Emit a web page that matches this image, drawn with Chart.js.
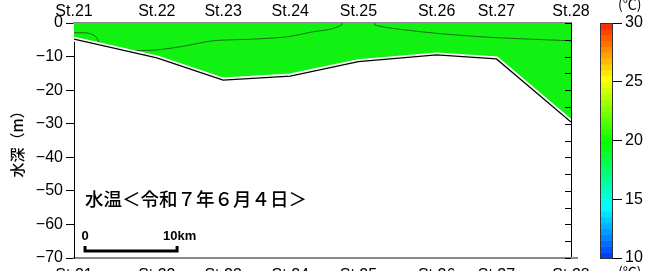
<!DOCTYPE html>
<html>
<head>
<meta charset="utf-8">
<script src="https://cdn.jsdelivr.net/npm/chart.js@4"></script>
<style>
  body { margin: 0; background: #fff; }
</style>
</head>
<body>
<canvas id="secao" width="655" height="271"></canvas>
<script>
// estações e distância ao longo da seção (km)
const estacoes = ['St.21', 'St.22', 'St.23', 'St.24', 'St.25', 'St.26', 'St.27', 'St.28'];
const distKm = [0, 9.0, 16.2, 23.5, 30.9, 39.4, 45.9, 54.0];

// profundidade do fundo em cada estação (m)
const fundo = [-4.8, -10.4, -17.0, -15.8, -11.5, -9.5, -10.7, -29.5];

// isolinhas de temperatura
const iso1Km = [0, 1.5, 2.3, 2.6, 2.8];
const iso1Prof = [-2.9, -3.0, -3.9, -5.1, -6.3];
const iso2Km = [6.4, 9.0, 11.5, 15.1, 19.5, 23.2, 26.0, 27.8, 29.1, 29.1];
const iso2Prof = [-8.3, -8.0, -7.1, -5.3, -4.8, -4.1, -2.6, -1.9, -0.6, 0];
const iso3Km = [32.7, 32.7, 34.6, 39.5, 45.4, 54.0];
const iso3Prof = [0, -0.6, -1.6, -3.1, -4.3, -5.3];

const ticksProf = [0, -5, -10, -15, -20, -25, -30, -35, -40, -45, -50, -55, -60, -65, -70];
const ticksCor = [10, 15, 20, 25, 30];

const VERDE = '#12f212';
const pontos = (xs, ys) => xs.map((x, i) => ({ x: x, y: ys[i] }));

Chart.defaults.font.family = '"Liberation Sans", Arial, sans-serif';
Chart.defaults.color = '#000';

function corTemp(t) {
    const h = 228 - 11 * (t - 10);
    return 'hsl(' + h + ',100%,50%)';
}

const extras = {
    id: 'extras',
    afterDraw(chart) {
        const c = chart.ctx;
        const area = chart.chartArea;
        const x = chart.scales.x;
        const y = chart.scales.y;
        const yd = chart.scales.y2;
        const cb = chart.scales.cb;
        c.save();

        // marcas internas do eixo direito
        c.strokeStyle = '#000';
        c.lineWidth = 1;
        yd.ticks.forEach(t => {
            const py = Math.round(yd.getPixelForValue(t.value)) + 0.5;
            c.beginPath();
            c.moveTo(area.right - 6, py);
            c.lineTo(area.right, py);
            c.stroke();
        });

        // linha inferior prolongada
        c.strokeStyle = '#888';
        c.lineWidth = 2;
        c.beginPath();
        c.moveTo(area.right, area.bottom);
        c.lineTo(area.right + 7, area.bottom);
        c.stroke();

        // barra de cores
        const bx = cb.left - 12;
        for (let t = 10; t < 30; t += 0.5) {
            const y1 = cb.getPixelForValue(t + 0.5);
            const y0 = cb.getPixelForValue(t);
            c.fillStyle = corTemp(t + 0.25);
            c.fillRect(bx, y1, 12, y0 - y1 + 0.5);
        }
        c.strokeStyle = '#333';
        c.lineWidth = 1;
        c.strokeRect(bx + 0.5, cb.top + 0.5, 12, cb.bottom - cb.top);

        c.fillStyle = '#000';
        c.font = '14px "Noto Sans CJK JP"';
        c.textAlign = 'left';
        c.textBaseline = 'alphabetic';
        c.fillText('(℃)', 618, 9);
        c.fillText('(℃)', 618, 277);

        // título
        c.font = '500 18.5px "Noto Sans CJK JP"';
        c.textBaseline = 'middle';
        c.fillText('水温＜令和７年６月４日＞', x.getPixelForValue(1.2), y.getPixelForValue(-52.5));

        // escala 10 km
        const x0 = x.getPixelForValue(1.2);
        const x1 = x.getPixelForValue(11.2);
        const yb = y.getPixelForValue(-67.9);
        c.strokeStyle = '#000';
        c.lineWidth = 3;
        c.beginPath();
        c.moveTo(x0, yb - 5);
        c.lineTo(x0, yb);
        c.lineTo(x1, yb);
        c.lineTo(x1, yb - 5);
        c.stroke();
        c.font = 'bold 13px "Liberation Sans", Arial';
        c.textBaseline = 'alphabetic';
        c.textAlign = 'center';
        c.fillText('0', x0, yb - 11);
        c.textAlign = 'left';
        c.fillText('10km', x1 - 14, yb - 11);

        c.restore();
    }
};

const eixoX = (pos, alt, pad) => ({
    type: 'linear',
    position: pos,
    min: 0,
    max: 54,
    afterBuildTicks: s => { s.ticks = distKm.map(v => ({ value: v })); },
    afterFit: s => { s.height = alt; },
    ticks: {
        callback: v => estacoes[distKm.indexOf(v)],
        font: { size: 16 },
        color: '#000',
        padding: pad,
        maxRotation: 0,
        autoSkip: false
    },
    grid: { display: false, drawTicks: false },
    border: { display: true, color: '#888', width: 2 }
});

const linha = (dados, cor, larg, ordem) => ({
    data: dados,
    xAxisID: 'x',
    yAxisID: 'y',
    borderColor: cor,
    borderWidth: larg,
    pointRadius: 0,
    fill: false,
    tension: 0,
    order: ordem
});

const iso = (xs, ys) => Object.assign(linha(pontos(xs, ys), 'rgba(20,70,20,0.85)', 0.9, 2), { tension: 0.25 });

new Chart(document.getElementById('secao'), {
    type: 'line',
    data: {
        datasets: [
            linha(pontos(distKm, fundo), '#000', 1.3, 0),
            linha(pontos(distKm, fundo), '#fff', 5, 1),
            iso(iso1Km, iso1Prof),
            iso(iso2Km, iso2Prof),
            iso(iso3Km, iso3Prof),
            Object.assign(linha(pontos(distKm, fundo), VERDE, 0, 3), {
                backgroundColor: VERDE,
                fill: { value: 0 }
            })
        ]
    },
    plugins: [extras],
    options: {
        responsive: false,
        animation: false,
        layout: { padding: 0 },
        plugins: { legend: { display: false }, tooltip: { enabled: false } },
        scales: {
            x: eixoX('bottom', 13, 8),
            xTop: eixoX('top', 23, 2),
            y: {
                position: 'left',
                min: -70,
                max: 0,
                afterBuildTicks: s => { s.ticks = ticksProf.map(v => ({ value: v })); },
                afterFit: s => { s.width = 74; },
                ticks: {
                    callback: v => v % 10 === 0 ? (v < 0 ? '\u2212' + (-v) : String(v)) : '',
                    font: { size: 16 },
                    color: '#000',
                    padding: 3
                },
                grid: { drawOnChartArea: false, tickLength: 8, color: '#000' },
                border: { color: '#000' },
                title: {
                    display: true,
                    text: '水深（m）',
                    font: { family: '"Noto Sans CJK JP"', size: 15, weight: 500 },
                    color: '#000',
                    padding: { top: 8, bottom: 0 }
                }
            },
            y2: {
                position: 'right',
                min: -70,
                max: 0,
                weight: 0,
                afterBuildTicks: s => { s.ticks = ticksProf.map(v => ({ value: v })); },
                afterFit: s => { s.width = 41; },
                ticks: { display: false },
                grid: { display: false },
                border: { display: true, color: '#000' }
            },
            cb: {
                position: 'right',
                min: 10,
                max: 30,
                weight: 1,
                afterBuildTicks: s => { s.ticks = ticksCor.map(v => ({ value: v })); },
                afterFit: s => { s.width = 43; },
                ticks: { font: { size: 16 }, color: '#000', padding: 3 },
                grid: { drawOnChartArea: false, tickLength: 10, color: '#000' },
                border: { display: false }
            }
        }
    }
});
</script>
</body>
</html>
